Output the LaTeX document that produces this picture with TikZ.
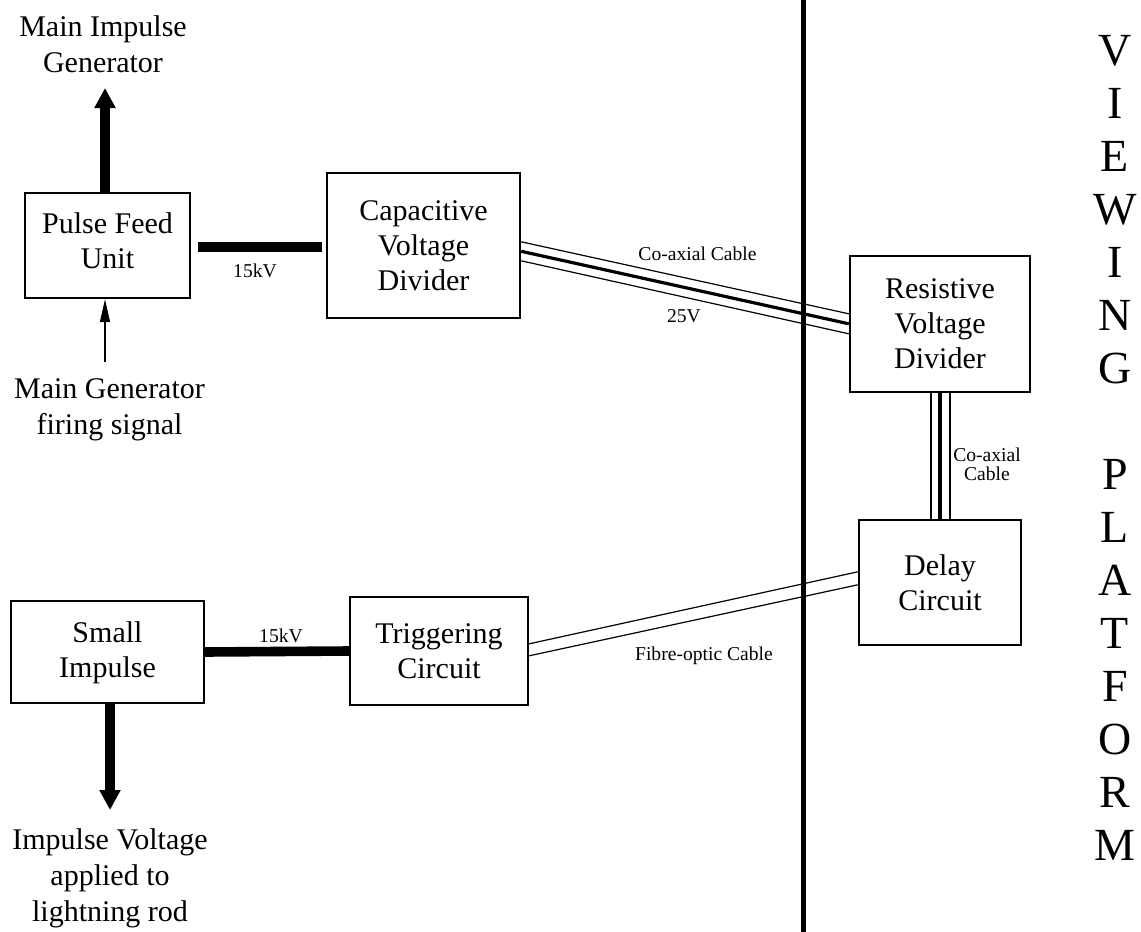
\documentclass[tikz,border=0pt]{standalone}
\usepackage{fontspec}
\setmainfont{Liberation Serif}
\usetikzlibrary{arrows.meta,calc}
\begin{document}
\begin{tikzpicture}[x=0.5pt,y=-0.5pt,
  box/.style={draw,line width=1.2pt,align=center,inner sep=0pt,font=\fontsize{15}{17.5}\selectfont},
  big/.style={font=\fontsize{15}{18}\selectfont,align=center,inner sep=0pt},
  small/.style={font=\fontsize{9.8}{9}\selectfont,inner sep=0pt},
  letter/.style={font=\fontsize{23}{26}\selectfont,inner sep=0pt,anchor=base},
  power/.style={line width=4.8pt},
  bigarrow/.style={line width=4.8pt,-{Triangle[width=10pt,length=10pt]}},
  thinarrow/.style={line width=0.6pt,-{Triangle[width=5pt,length=11.5pt]}},
  thin/.style={line width=0.6pt},
  core/.style={line width=1.6pt}]
\useasboundingbox (0,0) rectangle (1141,932);

% platform divider
\coordinate (pt) at (803,0);
\coordinate (pb) at (803,932);
\draw[line width=2.5pt] (pt) -- (pb);

% boxes
\node[box,minimum width=82.5pt,minimum height=52.5pt] (pfu) at (107.5,245.5) {};
\node[box,draw=none] (pfutxt) at (107.5,241) {Pulse Feed\\Unit};
\node[box,minimum width=96.5pt,minimum height=72.5pt] (cvd) at (423.5,245.5) {Capacitive\\Voltage\\Divider};
\node[box,minimum width=90pt,minimum height=68pt] (rvd) at (940,324) {Resistive\\Voltage\\Divider};
\node[box,minimum width=81pt,minimum height=62.5pt] (dly) at (940,582.5) {Delay\\Circuit};
\node[box,minimum width=89pt,minimum height=54pt] (trg) at (439,651) {Triggering\\Circuit};
\node[box,minimum width=96.5pt,minimum height=51pt] (sig) at (107.5,652) {};
\node[box,draw=none] (sigtxt) at (107.5,652.5) {Small\\Impulse};

% outer labels
\node[big] (mig) at (103,44.5) {Main Impulse\\Generator};
\node[big] (fire) at (109.5,409.5) {Main Generator\\firing signal};
\node[big] (rod) at (110,878.5) {Impulse Voltage\\applied to\\lightning rod};

% power lines
\draw[power] ($(pfu.east)+(7,1.5)$) -- ($(cvd.west)+(-4,1.5)$);
\draw[power] (sig.east) -- (trg.west);

% arrows
\coordinate (migtip) at (105,88);
\draw[bigarrow] ($(pfu.north)+(-2.5,0)$) -- (migtip);
\coordinate (rodtip) at (110,810);
\draw[bigarrow] ($(sig.south)+(2.5,0)$) -- (rodtip);
\coordinate (firetop) at (105,362);
\draw[thinarrow] (firetop) -- ($(pfu.south)+(-2.5,0)$);

% co-axial cable (capacitive -> resistive)
\draw[thin] ($(cvd.north east)+(0,70)$) -- ($(rvd.north west)+(0,59)$);
\draw[core] ($(cvd.north east)+(0,79.5)$) -- ($(rvd.north west)+(0,69)$);
\draw[thin] ($(cvd.north east)+(0,89)$) -- ($(rvd.north west)+(0,79)$);

% co-axial cable (resistive -> delay)
\draw[thin] ($(rvd.south)+(-9,0)$) -- ($(dly.north)+(-9,0)$);
\draw[core] (rvd.south) -- (dly.north);
\draw[thin] ($(rvd.south)+(10,0)$) -- ($(dly.north)+(10,0)$);

% fibre-optic cable
\draw[thin] ($(trg.north east)+(0,48)$) -- ($(dly.north west)+(0,53)$);
\draw[thin] ($(trg.north east)+(0,60)$) -- ($(dly.north west)+(0,66)$);

% small labels
\node[small,anchor=base] (v1) at (255,277) {15kV};
\node[small,anchor=base] (v2) at (281,642) {15kV};
\node[small,anchor=base] (cc1) at (697.5,260) {Co-axial Cable};
\node[small,anchor=base] (v3) at (684,322) {25V};
\node[small,anchor=base] (fo) at (704,660) {Fibre-optic Cable};
\node[small,anchor=base] (cc2a) at (987,461) {Co-axial};
\node[small,anchor=base] (cc2b) at (987,480) {Cable};

% viewing platform
\foreach \l [count=\i from 0] in {V,I,E,W,I,N,G}
  \node[letter] (a\i) at (1115,{65+\i*53}) {\l};
\foreach \l [count=\i from 8] in {P,L,A,T,F,O,R,M}
  \node[letter] (b\i) at (1115,{65+\i*53}) {\l};
\end{tikzpicture}
\end{document}
